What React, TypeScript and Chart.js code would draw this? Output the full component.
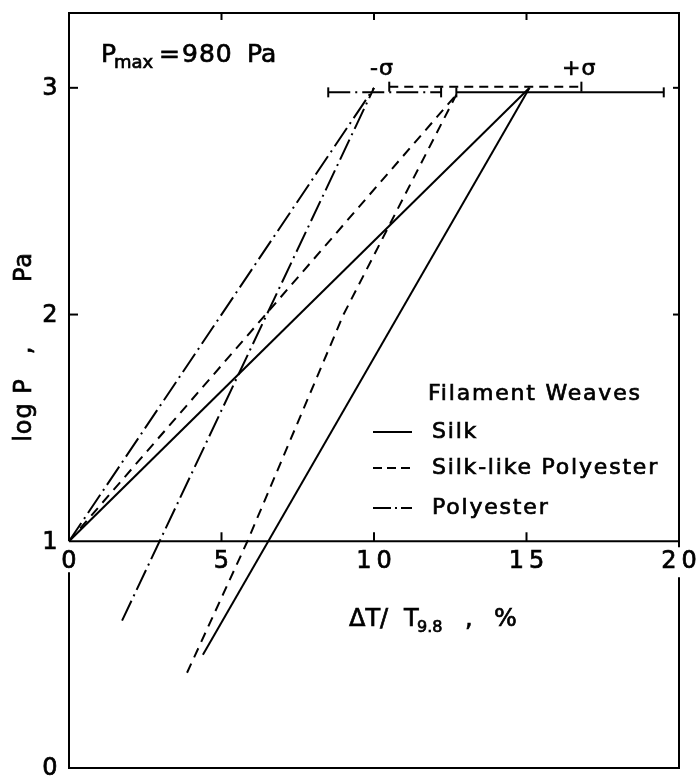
import React, { useEffect, useRef } from "react";
import { Chart, registerables } from "chart.js";

Chart.register(...registerables);

// ---- data ----
const xTickValues = [0, 5, 10, 15, 20];
const xTickLabels = ["0", "5", "10", "15", "20"];
const yTickValues = [0, 1, 2, 3];
const yTickLabels = ["0", "1", "2", "3"];

const silkFromOrigin = [{ x: 0, y: 1 }, { x: 15.1, y: 3 }];
const silkSteep = [{ x: 4.39, y: 0.5 }, { x: 15.1, y: 3 }];
const silkLikeFromOrigin = [{ x: 0, y: 1 }, { x: 12.7, y: 2.97 }];
const silkLikeSteep = [
  { x: 3.87, y: 0.42 },
  { x: 5.85, y: 1.0 },
  { x: 9.0, y: 2.0 },
  { x: 12.7, y: 2.97 },
];
const polyesterFromOrigin = [{ x: 0, y: 1 }, { x: 10, y: 3 }];
const polyesterSteep = [{ x: 1.74, y: 0.65 }, { x: 10, y: 3 }];

const polyesterSigma = [{ x: 8.5, y: 2.98 }, { x: 12.2, y: 2.98 }];
const silkLikeSigma = [{ x: 10.5, y: 3.005 }, { x: 16.8, y: 3.005 }];
const silkSigma = [{ x: 12.7, y: 2.98 }, { x: 19.5, y: 2.98 }];

const legendTitle = "Filament Weaves";
const seriesNames = ["Silk", "Silk-like Polyester", "Polyester"];

const FONT = '"DejaVu Sans", sans-serif';
const DASHED = [10, 7];
const DASHDOT = [22, 5, 2, 5];

const overlay = {
  id: "overlay",
  afterDraw(chart: any) {
    const { ctx, chartArea, scales } = chart;
    const { left, right, top, bottom } = chartArea;
    const xs = scales.x;
    const ys = scales.y;
    const y1 = ys.getPixelForValue(1);
    ctx.save();
    ctx.strokeStyle = "#000";
    ctx.fillStyle = "#000";
    ctx.lineWidth = 2;
    ctx.setLineDash([]);
    const line = (ax: number, ay: number, bx: number, by: number) => {
      ctx.beginPath();
      ctx.moveTo(ax, ay);
      ctx.lineTo(bx, by);
      ctx.stroke();
    };
    const txt = (s: string, x: number, y: number) => {
      ctx.save();
      ctx.lineWidth = 0.7;
      ctx.fillText(s, x, y);
      ctx.strokeText(s, x, y);
      ctx.restore();
    };
    // frame
    line(left - 1, top, right + 1, top);
    line(left - 1, bottom, right + 1, bottom);
    line(left, top, left, y1);
    line(left, y1 + 31, left, bottom);
    line(right, top, right, y1 + 6);
    line(right, y1 + 36, right, bottom);
    // x axis at logP = 1
    line(left, y1, right, y1);
    // ticks
    for (const v of [5, 10, 15]) {
      const px = xs.getPixelForValue(v);
      line(px, y1, px, y1 - 9);
      line(px, top, px, top + 7);
    }
    for (const v of [2, 3]) {
      const py = ys.getPixelForValue(v);
      line(left, py, left + 9, py);
      line(right, py, right - 6, py);
    }

    // tick labels
    ctx.font = `24px ${FONT}`;
    (ctx as any).letterSpacing = "5px";
    ctx.textAlign = "center";
    ctx.textBaseline = "middle";
    xTickValues.forEach((v, i) => {
      const px = xs.getPixelForValue(v);
      txt(xTickLabels[i], px + 2.5, y1 + 20);
    });
    (ctx as any).letterSpacing = "0px";
    yTickValues.forEach((v, i) => {
      const py = ys.getPixelForValue(v);
      txt(yTickLabels[i], left - 19, py + 1);
    });

    // axis titles
    ctx.textAlign = "left";
    ctx.textBaseline = "alphabetic";
    ctx.font = `24px ${FONT}`;
    (ctx as any).letterSpacing = "0px";
    txt("\u0394T/", 349, 626);
    txt("T", 404, 626);
    ctx.font = `16px ${FONT}`;
    txt("9.8", 417, 632);
    ctx.font = `24px ${FONT}`;
    txt(",", 465, 626);
    txt("%", 494, 626);

    // y title rotated
    ctx.save();
    ctx.translate(31, 0);
    ctx.rotate(-Math.PI / 2);
    ctx.font = `24px ${FONT}`;
    (ctx as any).letterSpacing = "1px";
    ctx.textAlign = "center";
    txt("log P", -410, 0);
    txt(",", -350, 0);
    txt("Pa", -267, 0);
    ctx.restore();

    // Pmax annotation
    ctx.textAlign = "left";
    ctx.font = `25px ${FONT}`;
    (ctx as any).letterSpacing = "0px";
    txt("P", 101, 62);
    ctx.font = `18px ${FONT}`;
    txt("max", 114, 68);
    ctx.font = `25px ${FONT}`;
    txt("=", 159, 62);
    (ctx as any).letterSpacing = "1px";
    txt("980", 182, 62);
    (ctx as any).letterSpacing = "0px";
    txt("Pa", 247, 62);

    // sigma labels
    ctx.font = `22px ${FONT}`;
    (ctx as any).letterSpacing = "1px";
    txt("-\u03C3", 370, 75);
    txt("+\u03C3", 562, 75);

    // legend
    ctx.font = `22px ${FONT}`;
    (ctx as any).letterSpacing = "1.8px";
    ctx.textBaseline = "middle";
    txt(legendTitle, 428, 394);
    const rows = [432, 468, 508];
    const dashes = [[], [9, 5], [18, 4, 2, 4]];
    seriesNames.forEach((name, i) => {
      txt(name, 432, rows[i]);
      ctx.setLineDash(dashes[i]);
      line(373, rows[i], 412, rows[i]);
      ctx.setLineDash([]);
    });
    ctx.restore();
  },
};

function mk(data: any[], dash: number[], caps = false) {
  return {
    data,
    borderColor: "#000",
    backgroundColor: "#000",
    borderWidth: 2,
    borderDash: dash,
    pointRadius: caps ? 5 : 0,
    pointStyle: "line",
    rotation: 90,
    pointBorderWidth: 2,
    pointBorderColor: "#000",
    fill: false,
    tension: 0,
  };
}

export default function App() {
  const ref = useRef<HTMLCanvasElement | null>(null);
  useEffect(() => {
    if (!ref.current) return;
    const chart = new Chart(ref.current, {
      type: "line",
      data: {
        datasets: [
          mk(silkFromOrigin, []),
          mk(silkSteep, []),
          mk(silkLikeFromOrigin, DASHED),
          mk(silkLikeSteep, DASHED),
          mk(polyesterFromOrigin, DASHDOT),
          mk(polyesterSteep, DASHDOT),
          mk(polyesterSigma, DASHDOT, true),
          mk(silkLikeSigma, [9, 6], true),
          mk(silkSigma, [], true),
        ] as any,
      },
      options: {
        animation: false,
        responsive: false,
        maintainAspectRatio: false,
        parsing: false as any,
        layout: { padding: { left: 69, right: 19, top: 13, bottom: 8 } },
        plugins: { legend: { display: false }, tooltip: { enabled: false } },
        scales: {
          x: { type: "linear", min: 0, max: 20, display: false },
          y: { type: "linear", min: 0, max: 3.33, display: false },
        },
      },
      plugins: [overlay],
    });
    return () => chart.destroy();
  }, []);
  return (
    <div style={{ position: "fixed", left: 0, top: 0, width: 698, height: 776, background: "#fff" }}>
      <canvas ref={ref} width={698} height={776} style={{ width: 698, height: 776, display: "block" }} />
    </div>
  );
}
